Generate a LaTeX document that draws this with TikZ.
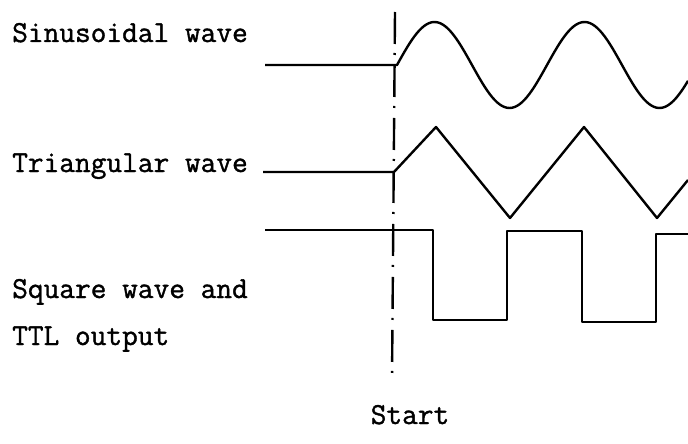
\documentclass[tikz,border=0pt]{standalone}
\usepackage{fontspec}
\usepackage{tikz}
\usetikzlibrary{positioning, calc}
\newfontfamily\typefont{Latin Modern Mono}[FakeBold=1.2]

\begin{document}
\begin{tikzpicture}[
    x=1pt, y=-1pt,
    txt/.style={anchor=base west, inner sep=0pt, font=\fontsize{30.5}{36}\selectfont\typefont},
    wave/.style={line width=2.4pt, line join=round},
    startline/.style={line width=2.4pt, dash pattern=on 32pt off 9pt on 2pt off 10pt}
]
\useasboundingbox (0,0) rectangle (688,444);

% Signal names
\node[txt] (sinlbl) at (12,42) {Sinusoidal wave};
\node[txt] (trilbl) at (12,172) {Triangular wave};
\node[txt] (sqlbl) at (12,298) {Square wave and};
\node[txt] (ttllbl) at (12,345) {TTL output};

% Start marker
\coordinate (starttop) at (395,12);
\coordinate (startbot) at (392,380);
\node[txt, anchor=base] (start) at (410,424) {Start};
\draw[startline] (starttop) -- (startbot);

% Sinusoidal wave (period 150)
\draw[wave] (265,65) -- (397,65) -- plot[domain=397:688, samples=120, smooth]
  (\x, {65-43*sin(2.4*(\x-397))});

% Triangular wave
\draw[wave] (263,172) -- (394,172) -- (436,127) -- (510,218) -- (584,127)
  -- (657,218) -- (688,180);

% Square wave
\draw[wave] (265,230) -- (433,230) -- (433,320) -- (507,320) -- (507,231)
  -- (582,231) -- (582,322) -- (656,322) -- (656,234) -- (688,234);
\end{tikzpicture}
\end{document}
